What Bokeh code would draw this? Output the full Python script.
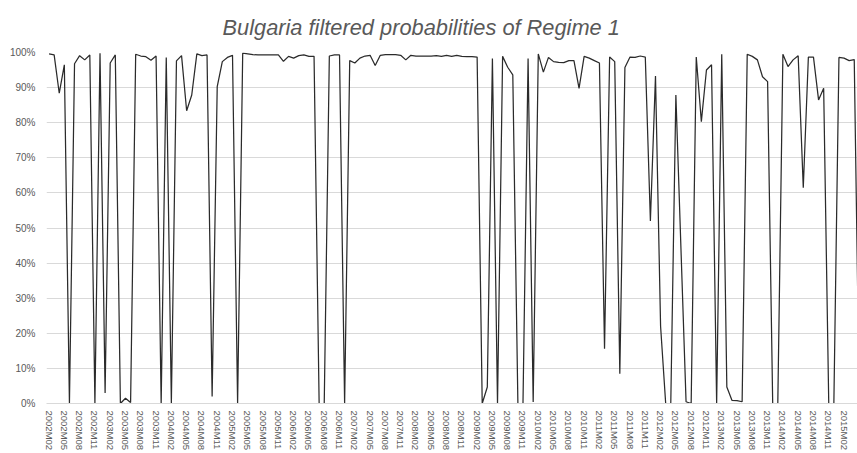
from bokeh.plotting import figure
from bokeh.models import FixedTicker, NumeralTickFormatter, Range1d, ColumnDataSource
from bokeh.embed import file_html
from bokeh.resources import INLINE

# Monthly categories 2002M02 .. 2015M05
start_year, start_month = 2002, 2
n_months = 160
months = []
for k in range(n_months):
    mm = start_month - 1 + k
    months.append(f"{start_year + mm // 12}M{mm % 12 + 1:02d}")

# Filtered probability of Regime 1 (%)
prob_pct = [
    99.6, 99.3, 88.4, 96.5, 0.0, 96.8, 99.1, 97.9, 99.3, 0.0,
    99.8, 3.0, 97.0, 99.3, 0.0, 1.5, 0.3, 99.5, 99.0, 98.8,
    97.8, 99.0, 0.0, 98.6, 0.0, 97.6, 99.1, 83.4, 87.9, 99.6,
    99.1, 99.3, 2.0, 90.3, 97.4, 98.6, 99.2, 0.0, 99.8, 99.6,
    99.4, 99.3, 99.3, 99.3, 99.3, 99.3, 97.5, 98.9, 98.4, 99.1,
    99.3, 98.9, 98.9, 0.0, 0.0, 99.0, 99.3, 99.3, 0.0, 97.7,
    97.0, 98.4, 99.0, 99.2, 96.3, 99.2, 99.4, 99.4, 99.4, 99.2,
    97.9, 99.2, 99.0, 99.0, 99.0, 99.0, 99.1, 98.9, 99.2, 98.9,
    99.2, 98.9, 98.8, 98.8, 98.7, 0.0, 4.7, 98.3, 0.0, 98.9,
    95.8, 93.6, 0.0, 0.0, 98.3, 0.4, 99.6, 94.4, 98.6, 97.4,
    97.2, 97.1, 97.7, 97.7, 89.8, 98.9, 98.4, 97.7, 97.0, 15.6,
    98.7, 97.4, 8.5, 95.7, 98.7, 98.6, 99.0, 98.7, 52.0, 93.3,
    22.0, 0.0, 0.0, 87.9, 44.0, 0.5, 0.0, 98.7, 80.3, 95.0,
    96.5, 0.0, 99.5, 4.7, 0.9, 0.8, 0.5, 99.5, 98.9, 97.9,
    93.1, 91.7, 0.0, 0.0, 99.5, 96.0, 97.9, 99.1, 61.5, 98.7,
    98.7, 86.5, 89.8, 0.0, 0.0, 98.6, 98.4, 97.7, 98.0, 0.0,
]

y_ticks = [0.0, 0.1, 0.2, 0.3, 0.4, 0.5, 0.6, 0.7, 0.8, 0.9, 1.0]
x_tick_idx = list(range(0, n_months, 3))

src = ColumnDataSource(data=dict(
    x=list(range(n_months)),
    y=[v / 100.0 for v in prob_pct],
    month=months,
))

GREY = "#595959"
GRID = "#d9d9d9"
FONT = "Liberation Sans"

p = figure(
    width=857, height=453,
    output_backend="svg", toolbar_location=None,
    x_range=Range1d(-0.5, 158.64), y_range=Range1d(0, 1),
    min_border_left=46, min_border_right=0,
    min_border_top=51, min_border_bottom=50,
    title="Bulgaria filtered probabilities of Regime 1",
)
p.outline_line_color = None
p.background_fill_color = "white"
p.border_fill_color = "white"

p.title.align = "left"
p.title.offset = 176
p.title.standoff = 25
p.title.text_font = FONT
p.title.text_font_size = "21.8px"
p.title.text_font_style = "italic"
p.title.text_color = GREY

p.line("x", "y", source=src, line_color="#2b2b2b", line_width=1.25)

p.xgrid.grid_line_color = None
p.ygrid.grid_line_color = GRID
p.ygrid.grid_line_width = 1
p.yaxis.ticker = FixedTicker(ticks=y_ticks)
p.yaxis.formatter = NumeralTickFormatter(format="0%")
p.yaxis.axis_line_color = None
p.yaxis.major_tick_line_color = None
p.yaxis.minor_tick_line_color = None
p.yaxis.major_tick_out = 0
p.yaxis.major_tick_in = 0
p.yaxis.major_label_standoff = 11
p.yaxis.major_label_text_font = FONT
p.yaxis.major_label_text_font_size = "10px"
p.yaxis.major_label_text_color = GREY

p.xaxis.ticker = FixedTicker(ticks=x_tick_idx)
p.xaxis.major_label_overrides = {i: months[i] for i in x_tick_idx}
p.xaxis.major_label_orientation = "vertical"
p.xaxis.axis_line_color = GRID
p.xaxis.major_tick_line_color = None
p.xaxis.minor_tick_line_color = None
p.xaxis.major_tick_out = 0
p.xaxis.major_tick_in = 0
p.xaxis.major_label_standoff = 7
p.xaxis.major_label_text_font = FONT
p.xaxis.major_label_text_font_size = "9.5px"
p.xaxis.major_label_text_color = GREY

open("out.html", "w").write(file_html(p, INLINE))
